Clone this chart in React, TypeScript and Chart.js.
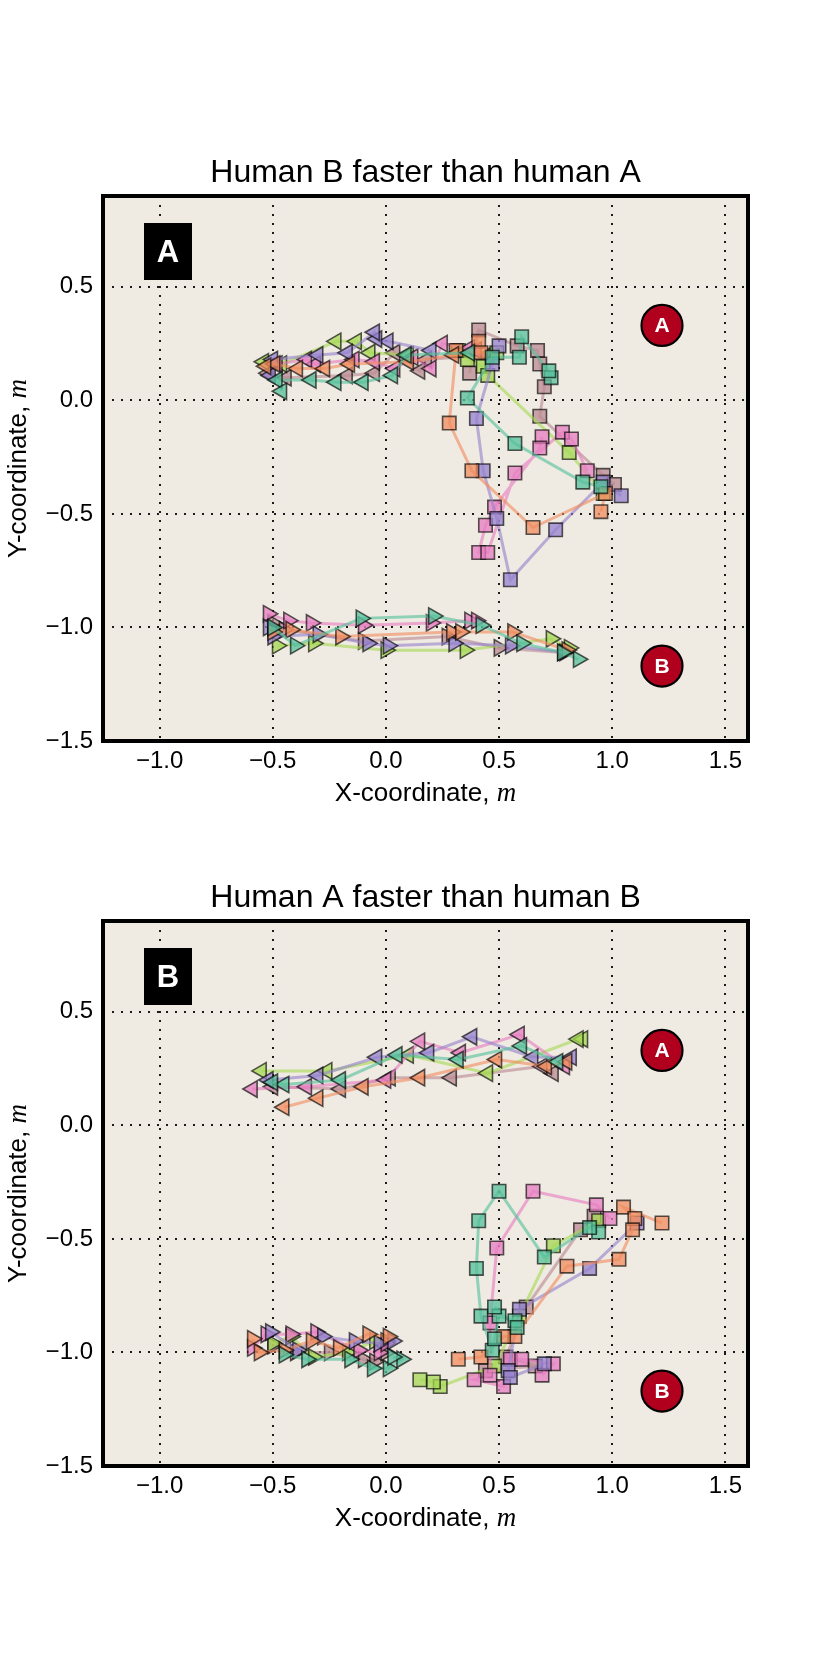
import { useEffect, useRef } from 'react'
import { Chart, registerables } from 'chart.js'

Chart.register(...registerables)

type Pt = [number, number]

// one colour per trial: teal, orange, lavender, pink, lime, mauve
const trialColors: [number, number, number][] = [
  [85, 192, 155],
  [240, 140, 95],
  [150, 130, 205],
  [231, 125, 192],
  [166, 216, 84],
  [185, 137, 147],
]

const xTicks = [-1.0, -0.5, 0.0, 0.5, 1.0, 1.5]
const yTicks = [-1.5, -1.0, -0.5, 0.0, 0.5]
const xMin = -1.25
const xMax = 1.6
const yMin = -1.5
const yMax = 0.9

// red start badges
const badgeLabels = ['A', 'B']
const badgeX = [1.22, 1.22]
const badgeY = [0.33, -1.17]

const titles = ['Human B faster than human A', 'Human A faster than human B']
const panelLetters = ['A', 'B']

// ---- panel A: human B faster than human A ----
const fastBHumanA: Pt[][] = [
  [[0.37, 0.21], [0.09, 0.2], [0.03, 0.11], [-0.1, 0.08], [-0.22, 0.08], [-0.33, 0.09], [-0.48, 0.09], [-0.46, 0.04]],
  [[0.3, 0.2], [0.1, 0.17], [-0.16, 0.16], [-0.27, 0.14], [-0.39, 0.14], [-0.49, 0.16], [-0.53, 0.15]],
  [[0.2, 0.22], [0.01, 0.26], [-0.04, 0.27], [-0.05, 0.3], [-0.17, 0.21], [-0.3, 0.2], [-0.5, 0.18], [-0.51, 0.11]],
  [[0.4, 0.22], [0.37, 0.23], [0.25, 0.25], [0.2, 0.14], [0.12, 0.19], [0.04, 0.14], [-0.05, 0.17], [-0.14, 0.18], [-0.31, 0.16], [-0.35, 0.18], [-0.48, 0.16]],
  [[0.1, 0.2], [-0.07, 0.21], [-0.13, 0.26], [-0.22, 0.26], [-0.46, 0.16], [-0.54, 0.17]],
  [[0.45, 0.2], [0.18, 0.18], [0.15, 0.13], [0.04, 0.21], [-0.05, 0.12], [-0.17, 0.11], [-0.44, 0.1], [-0.52, 0.12]],
]
const fastBHumanB: Pt[][] = [
  [[-0.5, -1.0], [-0.4, -1.08], [-0.11, -0.96], [0.21, -0.95], [0.42, -0.99], [0.6, -1.07], [0.78, -1.11], [0.85, -1.14]],
  [[-0.5, -1.02], [-0.42, -1.01], [-0.2, -1.04], [0.29, -1.02], [0.33, -1.02], [0.56, -1.02], [0.8, -1.1]],
  [[-0.52, -1.0], [-0.5, -1.04], [-0.3, -1.03], [-0.08, -1.07], [0.01, -1.08], [0.3, -1.07], [0.55, -1.08], [0.79, -1.11]],
  [[-0.52, -0.94], [-0.43, -0.97], [-0.33, -0.98], [-0.1, -0.99], [0.2, -0.98], [0.37, -0.97], [0.4, -0.97]],
  [[-0.48, -1.08], [-0.32, -1.07], [0.0, -1.1], [0.35, -1.1], [0.73, -1.05], [0.81, -1.09]],
  [[-0.5, -0.98], [-0.45, -1.01], [-0.1, -1.06], [0.27, -1.04], [0.5, -1.09], [0.78, -1.11]],
]
const fastBRobot: Pt[][] = [
  [[0.73, 0.1], [0.72, 0.13], [0.6, 0.28], [0.59, 0.19], [0.47, 0.19], [0.36, 0.01], [0.57, -0.19], [0.87, -0.36], [0.95, -0.38]],
  [[0.41, 0.26], [0.42, 0.21], [0.31, 0.22], [0.28, -0.1], [0.38, -0.31], [0.65, -0.56], [0.97, -0.41], [0.95, -0.49]],
  [[0.5, 0.24], [0.47, 0.16], [0.4, -0.08], [0.43, -0.31], [0.49, -0.52], [0.55, -0.79], [0.75, -0.57], [0.96, -0.36], [1.04, -0.42]],
  [[0.69, -0.16], [0.68, -0.21], [0.48, -0.47], [0.44, -0.55], [0.41, -0.67], [0.45, -0.67], [0.57, -0.32], [0.78, -0.14], [0.82, -0.17], [0.89, -0.31]],
  [[0.49, 0.21], [0.32, 0.22], [0.36, 0.18], [0.43, 0.15], [0.45, 0.11], [0.81, -0.23], [0.96, -0.41]],
  [[0.37, 0.12], [0.41, 0.31], [0.58, 0.24], [0.67, 0.22], [0.68, 0.16], [0.7, 0.06], [0.68, -0.07], [0.96, -0.33], [1.01, -0.37]],
]

// ---- panel B: human A faster than human B ----
const fastAHumanA: Pt[][] = [
  [[0.76, 0.28], [0.6, 0.35], [0.32, 0.29], [0.05, 0.31], [-0.2, 0.2], [-0.45, 0.18], [-0.5, 0.19]],
  [[0.8, 0.28], [0.71, 0.26], [0.49, 0.29], [0.15, 0.21], [-0.1, 0.17], [-0.3, 0.12], [-0.45, 0.08]],
  [[0.82, 0.3], [0.65, 0.3], [0.38, 0.39], [0.19, 0.32], [-0.04, 0.3], [-0.3, 0.22], [-0.52, 0.2]],
  [[0.79, 0.26], [0.59, 0.4], [0.33, 0.32], [0.15, 0.37], [0.0, 0.2], [-0.35, 0.17], [-0.59, 0.16]],
  [[0.87, 0.38], [0.85, 0.38], [0.45, 0.23], [0.1, 0.31], [-0.26, 0.24], [-0.55, 0.24]],
  [[0.74, 0.23], [0.69, 0.26], [0.29, 0.21], [0.02, 0.21], [-0.2, 0.16], [-0.5, 0.17]],
]
const fastAHumanB: Pt[][] = [
  [[-0.45, -1.01], [-0.35, -1.03], [-0.16, -1.03], [-0.06, -1.07], [0.01, -1.07], [0.07, -1.03], [0.03, -1.02]],
  [[-0.59, -0.94], [-0.56, -1.0], [-0.45, -0.99], [-0.33, -0.95], [-0.21, -0.98], [-0.08, -0.92], [0.01, -0.93]],
  [[-0.51, -0.91], [-0.39, -0.99], [-0.28, -0.93], [-0.14, -0.95], [-0.03, -0.96], [0.03, -0.95]],
  [[-0.59, -0.98], [-0.53, -0.92], [-0.42, -0.92], [-0.31, -0.91], [-0.12, -0.99], [-0.03, -1.0], [0.0, -0.96]],
  [[-0.5, -0.96], [-0.42, -0.93], [-0.32, -1.02], [-0.17, -1.0], [-0.05, -0.95], [0.0, -0.95]],
  [[-0.5, -0.97], [-0.4, -1.0], [-0.25, -1.0], [-0.1, -1.03], [-0.05, -1.04], [0.0, -1.0]],
]
const fastARobot: Pt[][] = [
  [[0.94, -0.47], [0.9, -0.45], [0.7, -0.58], [0.5, -0.29], [0.41, -0.42], [0.4, -0.63], [0.42, -0.84], [0.47, -0.99], [0.48, -0.94], [0.5, -0.84], [0.57, -0.86], [0.58, -0.89], [0.48, -0.8]],
  [[1.22, -0.43], [1.05, -0.36], [1.1, -0.41], [1.09, -0.46], [1.03, -0.59], [0.8, -0.62], [0.57, -0.93], [0.52, -0.93], [0.42, -1.02], [0.32, -1.03]],
  [[1.11, -0.43], [0.9, -0.63], [0.59, -0.81], [0.54, -1.08], [0.55, -1.11], [0.7, -1.05]],
  [[0.99, -0.41], [0.93, -0.35], [0.65, -0.29], [0.49, -0.54], [0.46, -0.87], [0.46, -1.1], [0.39, -1.12], [0.52, -1.15], [0.55, -1.03], [0.6, -1.03], [0.74, -1.05], [0.69, -1.1]],
  [[0.94, -0.42], [0.74, -0.53], [0.59, -0.84], [0.48, -1.06], [0.24, -1.15], [0.21, -1.13], [0.15, -1.12]],
  [[0.92, -0.4], [0.86, -0.46], [0.62, -0.8], [0.53, -1.02], [0.66, -1.06], [0.44, -1.08]],
]

const SANS = '"Liberation Sans", Arial, sans-serif'
const SERIF = '"Liberation Serif", "DejaVu Serif", serif'

const rgba = (c: [number, number, number], a: number) => `rgba(${c[0]},${c[1]},${c[2]},${a})`
const fmt = (v: number) => (v < 0 ? '\u2212' : '') + Math.abs(v).toFixed(1)

function series(pts: Pt[], color: [number, number, number], style: string, rotation: number, radius: number) {
  return {
    data: pts.map(([x, y]) => ({ x, y })),
    showLine: true,
    borderColor: rgba(color, 0.62),
    borderWidth: 3,
    tension: 0,
    pointStyle: style,
    pointRotation: rotation,
    pointRadius: radius,
    pointBackgroundColor: rgba(color, 0.75),
    pointBorderColor: 'rgba(0,0,0,0.65)',
    pointBorderWidth: 1.6,
  }
}

function drawAxisTitle(ctx: CanvasRenderingContext2D, x: number, y: number, text: string, rotate: boolean) {
  ctx.save()
  ctx.translate(x, y)
  if (rotate) ctx.rotate(-Math.PI / 2)
  const sansFont = `26px ${SANS}`
  const mathFont = `italic 27px ${SERIF}`
  ctx.font = sansFont
  const w1 = ctx.measureText(text).width
  ctx.font = mathFont
  const w2 = ctx.measureText('m').width
  const start = -(w1 + w2) / 2
  ctx.fillStyle = '#000'
  ctx.textBaseline = 'middle'
  ctx.textAlign = 'left'
  ctx.font = sansFont
  ctx.fillText(text, start, 0)
  ctx.font = mathFont
  ctx.fillText('m', start + w1, 0)
  ctx.restore()
}

function Panel({ top, title, letter, humanA, humanB, robot }: {
  top: number
  title: string
  letter: string
  humanA: Pt[][]
  humanB: Pt[][]
  robot: Pt[][]
}) {
  const canvasRef = useRef<HTMLCanvasElement | null>(null)

  useEffect(() => {
    if (!canvasRef.current) return
    const ctx = canvasRef.current.getContext('2d')
    if (!ctx) return

    const datasets: any[] = []
    trialColors.forEach((c, i) => {
      datasets.push(series(humanA[i], c, 'triangle', -90, 9.5))
      datasets.push(series(humanB[i], c, 'triangle', 90, 9.5))
      datasets.push(series(robot[i], c, 'rect', 0, 9.5))
    })

    const decor = {
      id: 'decor',
      beforeDraw(chart: any) {
        const { ctx, chartArea: a } = chart
        ctx.save()
        ctx.fillStyle = '#efebe2'
        ctx.fillRect(a.left, a.top, a.right - a.left, a.bottom - a.top)
        ctx.restore()
      },
      afterDraw(chart: any) {
        const { ctx, chartArea: a, scales } = chart
        ctx.save()
        // frame
        ctx.strokeStyle = '#000'
        ctx.lineWidth = 4
        ctx.strokeRect(a.left, a.top, a.right - a.left, a.bottom - a.top)
        // title
        ctx.fillStyle = '#000'
        ctx.font = `32px ${SANS}`
        ctx.textAlign = 'center'
        ctx.textBaseline = 'middle'
        ctx.fillText(title, (a.left + a.right) / 2, a.top - 23)
        // panel letter box
        ctx.fillStyle = '#000'
        ctx.fillRect(a.left + 41, a.top + 27, 48, 57)
        ctx.fillStyle = '#fff'
        ctx.font = `bold 31px ${SANS}`
        ctx.fillText(letter, a.left + 65, a.top + 57)
        // start badges
        badgeLabels.forEach((b, i) => {
          const px = scales.x.getPixelForValue(badgeX[i])
          const py = scales.y.getPixelForValue(badgeY[i])
          ctx.beginPath()
          ctx.arc(px, py, 20.5, 0, Math.PI * 2)
          ctx.fillStyle = '#b0001e'
          ctx.fill()
          ctx.lineWidth = 2.2
          ctx.strokeStyle = '#000'
          ctx.stroke()
          ctx.fillStyle = '#fff'
          ctx.font = `bold 21px ${SANS}`
          ctx.fillText(b, px, py + 1)
        })
        ctx.restore()
        drawAxisTitle(ctx, (a.left + a.right) / 2, a.bottom + 53, 'X-coordinate, ', false)
        drawAxisTitle(ctx, a.left - 84, (a.top + a.bottom) / 2, 'Y-coordinate, ', true)
      },
    }

    const chart = new Chart(ctx, {
      type: 'scatter',
      data: { datasets },
      options: {
        animation: false,
        responsive: true,
        maintainAspectRatio: false,
        events: [],
        layout: { padding: { top: 136, left: 0, right: 82, bottom: 9 } },
        plugins: { legend: { display: false }, tooltip: { enabled: false }, title: { display: false } },
        scales: {
          x: {
            type: 'linear',
            min: xMin,
            max: xMax,
            afterFit: (axis: any) => { axis.height = 70 },
            afterBuildTicks: (axis: any) => { axis.ticks = xTicks.map((v) => ({ value: v })) },
            ticks: { color: '#000', font: { family: SANS, size: 24 }, padding: 6, callback: (v: any) => fmt(Number(v)) },
            grid: { color: '#1a1a1a', lineWidth: 2, drawTicks: false },
            border: { display: false, dash: [2, 7] },
          },
          y: {
            type: 'linear',
            min: yMin,
            max: yMax,
            afterFit: (axis: any) => { axis.width = 103 },
            afterBuildTicks: (axis: any) => { axis.ticks = yTicks.map((v) => ({ value: v })) },
            ticks: { color: '#000', font: { family: SANS, size: 24 }, padding: 10, callback: (v: any) => fmt(Number(v)) },
            grid: { color: '#1a1a1a', lineWidth: 2, drawTicks: false },
            border: { display: false, dash: [2, 7] },
          },
        },
      },
      plugins: [decor],
    })

    return () => {
      chart.destroy()
    }
  }, [title, letter, humanA, humanB, robot])

  return (
    <div style={{ position: 'absolute', left: 0, top, width: 830, height: 760 }}>
      <canvas ref={canvasRef} />
    </div>
  )
}

export default function App() {
  return (
    <div style={{ position: 'absolute', left: 0, top: 0, width: 830, height: 1661, background: '#fff' }}>
      <Panel top={60} title={titles[0]} letter={panelLetters[0]} humanA={fastBHumanA} humanB={fastBHumanB} robot={fastBRobot} />
      <Panel top={785} title={titles[1]} letter={panelLetters[1]} humanA={fastAHumanA} humanB={fastAHumanB} robot={fastARobot} />
    </div>
  )
}
